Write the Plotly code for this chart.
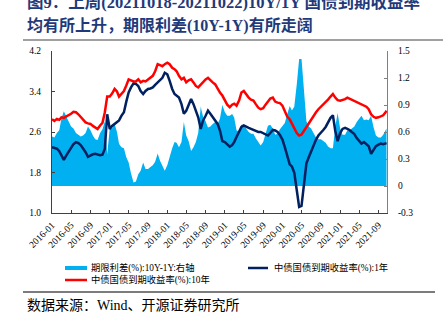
import plotly.graph_objects as go

# ---- data (semi-monthly readings, 1st and 16th of each month, plus 2021-10-22) ----
months = [f"{y}-{m:02d}" for y in range(2016, 2022) for m in range(1, 13)]
months = [mm for mm in months if mm <= "2021-10"]
dates = []
for mm in months:
    dates += [mm + "-01", mm + "-16"]
dates.append("2021-10-22")

y10 = [
    # 2016
    2.85, 2.82, 2.86, 2.84, 2.89, 2.88, 2.91, 2.93, 2.96, 3.00, 2.99, 2.95,
    2.89, 2.84, 2.79, 2.77, 2.76, 2.72, 2.69, 2.66, 2.73, 2.78, 2.99, 3.30,
    # 2017
    3.30, 3.36, 3.45, 3.40, 3.30, 3.35, 3.41, 3.52, 3.64, 3.62, 3.60, 3.60,
    3.64, 3.58, 3.61, 3.60, 3.64, 3.67, 3.71, 3.80, 3.94, 3.92, 3.90, 3.94,
    # 2018
    3.97, 3.94, 3.87, 3.84, 3.80, 3.71, 3.64, 3.67, 3.58, 3.62, 3.64, 3.58,
    3.51, 3.48, 3.54, 3.60, 3.64, 3.67, 3.62, 3.58, 3.54, 3.45, 3.38, 3.32,
    # 2019
    3.22, 3.14, 3.09, 3.14, 3.16, 3.12, 3.22, 3.38, 3.41, 3.34, 3.28, 3.24,
    3.22, 3.15, 3.08, 3.05, 3.07, 3.14, 3.20, 3.26, 3.28, 3.20, 3.18, 3.17,
    # 2020
    3.12, 3.00, 2.90, 2.85, 2.76, 2.68, 2.58, 2.53, 2.55, 2.62, 2.70, 2.76,
    2.86, 2.93, 2.99, 3.05, 3.10, 3.14, 3.18, 3.24, 3.30, 3.35, 3.28, 3.23,
    # 2021
    3.22, 3.23, 3.25, 3.28, 3.26, 3.24, 3.22, 3.19, 3.17, 3.15, 3.13, 3.10,
    3.05, 2.95, 2.90, 2.88, 2.89, 2.91, 2.93, 2.99, 3.02,
]

y1 = [
    # 2016
    2.30, 2.28, 2.27, 2.22, 2.14, 2.05, 2.14, 2.22, 2.30, 2.36, 2.40, 2.38,
    2.34, 2.28, 2.20, 2.11, 2.14, 2.16, 2.17, 2.15, 2.14, 2.15, 2.27, 2.95,
    # 2017
    2.66, 2.72, 2.76, 2.80, 2.83, 2.92, 2.99, 3.20, 3.38, 3.48, 3.56, 3.55,
    3.51, 3.41, 3.35, 3.41, 3.45, 3.46, 3.48, 3.53, 3.58, 3.64, 3.67, 3.77,
    # 2018
    3.74, 3.61, 3.45, 3.35, 3.32, 3.28, 3.15, 2.96, 3.02, 3.12, 3.25, 3.15,
    3.02, 2.89, 2.66, 2.83, 2.92, 3.02, 2.96, 2.89, 2.83, 2.76, 2.63, 2.42,
    # 2019
    2.40, 2.36, 2.31, 2.34, 2.40, 2.50, 2.62, 2.70, 2.73, 2.70, 2.68, 2.66,
    2.64, 2.62, 2.60, 2.60, 2.58, 2.56, 2.53, 2.58, 2.64, 2.63, 2.60, 2.54,
    # 2020
    2.45, 2.30, 2.10, 1.96, 1.92, 1.80, 1.45, 1.12, 1.14, 1.55, 1.98, 2.10,
    2.22, 2.34, 2.45, 2.53, 2.58, 2.64, 2.70, 2.80, 2.88, 2.93, 2.62, 2.42,
    # 2021
    2.58, 2.66, 2.68, 2.66, 2.64, 2.60, 2.56, 2.48, 2.42, 2.37, 2.40, 2.36,
    2.32, 2.17, 2.25, 2.32, 2.35, 2.37, 2.36, 2.37, 2.38,
]

# term spread 10Y-1Y (right axis)
spread = [round(a - b, 2) for a, b in zip(y10, y1)]

x_ticks = [f"{y}-{m:02d}-01" for y in range(2016, 2022) for m in (1, 5, 9)]
x_ticktext = [t[:7] for t in x_ticks]
left_ticks = [1.0, 1.8, 2.6, 3.4, 4.2]
right_ticks = [-0.3, 0, 0.3, 0.6, 0.9, 1.2, 1.5]
right_ticktext = ["-0.3", "0", "0.3", "0.6", "0.9", "1.2", "1.5"]

names = ["期限利差(%):10Y-1Y:右轴", "中债国债到期收益率(%):1年", "中债国债到期收益率(%):10年"]
colors = ["#00B0F0", "#002060", "#FF0000"]
title1 = "图9：上周(20211018-20211022)10Y/1Y 国债到期收益率"
title2 = "均有所上升，期限利差(10Y-1Y)有所走阔"
source = "数据来源：Wind、开源证券研究所"

# ---- figure ----
SERIF = "Liberation Serif, Noto Sans CJK SC"
W, H = 443, 327
L, R, T, B = 52, 387, 51, 213
pw, ph = R - L, B - T

def px(x):
    return (x - L) / pw

def py(y):
    return (B - y) / ph

fig = go.Figure()
fig.add_trace(go.Scatter(
    x=dates, y=spread, name=names[0], mode="lines",
    fill="tozeroy", fillcolor=colors[0], line=dict(width=0, color=colors[0]),
    yaxis="y"))
fig.add_trace(go.Scatter(
    x=dates, y=y1, name=names[1], mode="lines",
    line=dict(color=colors[1], width=2.5), yaxis="y2"))
fig.add_trace(go.Scatter(
    x=dates, y=y10, name=names[2], mode="lines",
    line=dict(color=colors[2], width=2.5), yaxis="y2"))

tickfont = dict(family=SERIF, size=9.5, color="#000000")
fig.update_layout(
    width=W, height=H,
    margin=dict(l=L, r=W - R, t=T, b=H - B, pad=0, autoexpand=False),
    paper_bgcolor="white", plot_bgcolor="white",
    font=dict(family=SERIF, size=10, color="#000000"),
    showlegend=False,
    xaxis=dict(type="date", range=["2016-01-01", "2021-10-25"],
               tickvals=x_ticks, ticktext=x_ticktext, tickangle=-45,
               ticks="inside", ticklen=3, tickcolor="#404040",
               showline=True, linecolor="#404040", linewidth=1,
               showgrid=False, zeroline=False, ticklabelstandoff=2,
               tickfont=dict(family=SERIF, size=9.5, color="#000000")),
    yaxis=dict(side="right", range=[-0.3, 1.5], tickvals=right_ticks,
               ticktext=right_ticktext, ticks="inside", ticklen=3,
               tickcolor="#808080", showline=True, linecolor="#808080",
               linewidth=1, showgrid=False, zeroline=False,
               ticklabelstandoff=8, tickfont=tickfont),
    yaxis2=dict(side="left", overlaying="y", range=[1.0, 4.2],
                tickvals=left_ticks, ticktext=[f"{v:.1f}" for v in left_ticks],
                ticks="inside", ticklen=3, tickcolor="#404040", showline=True,
                linecolor="#404040", linewidth=1, showgrid=False, zeroline=False,
                ticklabelstandoff=8, tickfont=tickfont),
)

# legend (drawn manually to match the reference layout)
leg = [(65, 87, 268, 89), (248, 268, 268, 272), (65, 87, 280, 89)]
for i, (xa, xb, yc, xt) in enumerate(leg):
    if i == 0:
        fig.add_shape(type="rect", xref="paper", yref="paper",
                      x0=px(xa), x1=px(xb), y0=py(yc - 2), y1=py(yc + 2),
                      fillcolor=colors[i], line=dict(width=0))
    else:
        fig.add_shape(type="line", xref="paper", yref="paper",
                      x0=px(xa), x1=px(xb), y0=py(yc), y1=py(yc),
                      line=dict(color=colors[i], width=2.5))
    fig.add_annotation(text=names[i], xref="paper", yref="paper",
                       x=px(xt), y=py(yc), xanchor="left", yanchor="middle",
                       showarrow=False,
                       font=dict(family=SERIF, size=9.3, color="#000000"))

NAVY = "#1F3A7A"
fig.add_annotation(text="<b>" + title1 + "</b>", xref="paper", yref="paper",
                   x=px(25), y=py(2), xanchor="left", yanchor="middle",
                   showarrow=False, font=dict(family=SERIF, size=16.5, color=NAVY))
fig.add_annotation(text="<b>" + title2 + "</b>", xref="paper", yref="paper",
                   x=px(25), y=py(26), xanchor="left", yanchor="middle",
                   showarrow=False, font=dict(family=SERIF, size=16, color=NAVY))
fig.add_annotation(text=source, xref="paper", yref="paper",
                   x=px(25), y=py(305), xanchor="left", yanchor="middle",
                   showarrow=False, font=dict(family=SERIF, size=14, color="#000000"))
fig.add_shape(type="line", xref="paper", yref="paper",
              x0=px(23), x1=px(443), y0=py(40), y1=py(40),
              line=dict(color="#808080", width=1.5))
fig.add_shape(type="line", xref="paper", yref="paper",
              x0=px(23), x1=px(435), y0=py(292), y1=py(292),
              line=dict(color="#505050", width=1.5))

fig.write_html("out.html")
